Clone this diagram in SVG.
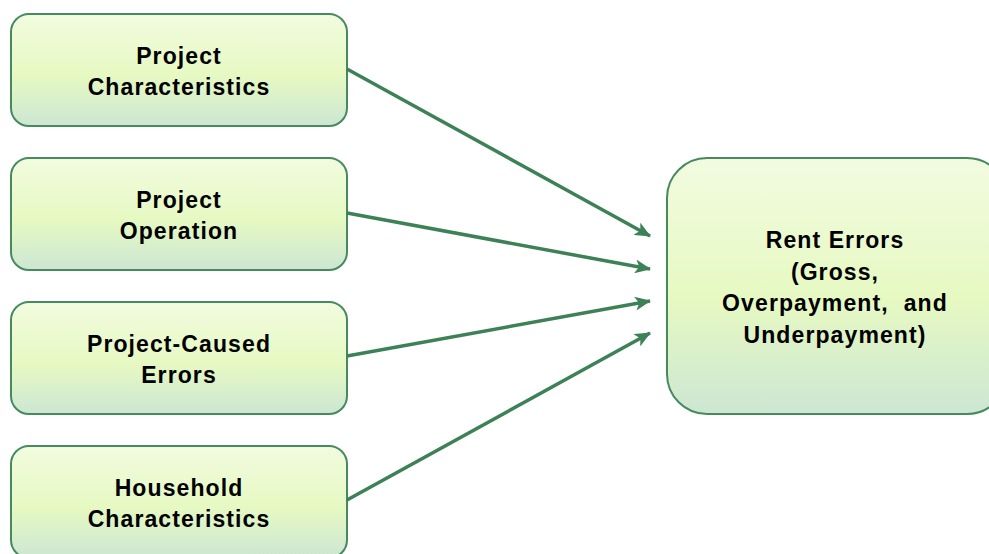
<svg xmlns="http://www.w3.org/2000/svg" width="989" height="554" viewBox="0 0 989 554">
<defs>
<linearGradient id="g" x1="0" y1="0" x2="0" y2="1">
<stop offset="0" stop-color="#f2fbe0"/>
<stop offset="0.55" stop-color="#e6f9c2"/>
<stop offset="1" stop-color="#cde6d3"/>
</linearGradient>
<marker id="ah" viewBox="0 0 16 14" refX="15" refY="7" markerWidth="16" markerHeight="14" markerUnits="userSpaceOnUse" orient="auto">
<path d="M0,0 L16,7 L0,14 L4,7 Z" fill="#3d8157"/>
</marker>
<style>
.box{fill:url(#g);stroke:#468a5e;stroke-width:2}
.t{font-family:"Liberation Sans",Arial,sans-serif;font-weight:bold;font-size:23px;letter-spacing:1.1px;fill:#000;text-anchor:middle}
.c{stroke:#3d8157;stroke-width:3.5;fill:none;marker-end:url(#ah)}
</style>
</defs>
<g id="n1"><rect class="box" x="11" y="14" width="336" height="112" rx="18"/><text class="t" x="179" y="64">Project</text><text class="t" x="179" y="95">Characteristics</text></g>
<g id="n2"><rect class="box" x="11" y="158" width="336" height="112" rx="18"/><text class="t" x="179" y="208">Project</text><text class="t" x="179" y="239">Operation</text></g>
<g id="n3"><rect class="box" x="11" y="302" width="336" height="112" rx="18"/><text class="t" x="179" y="352">Project-Caused</text><text class="t" x="179" y="383">Errors</text></g>
<g id="n4"><rect class="box" x="11" y="446" width="336" height="112" rx="18"/><text class="t" x="179" y="496">Household</text><text class="t" x="179" y="527">Characteristics</text></g>
<g id="n5"><rect class="box" x="667" y="158" width="340" height="256" rx="40"/><text class="t" x="835" y="248">Rent Errors</text><text class="t" x="835" y="280">(Gross,</text><text class="t" x="835" y="311" xml:space="preserve">Overpayment,  and</text><text class="t" x="835" y="343">Underpayment)</text></g>
<g id="connectors">
<line class="c" x1="347" y1="69" x2="650" y2="236"/>
<line class="c" x1="347" y1="213" x2="650" y2="269"/>
<line class="c" x1="347" y1="356" x2="650" y2="301"/>
<line class="c" x1="347" y1="500" x2="650" y2="333"/>
</g>
</svg>
